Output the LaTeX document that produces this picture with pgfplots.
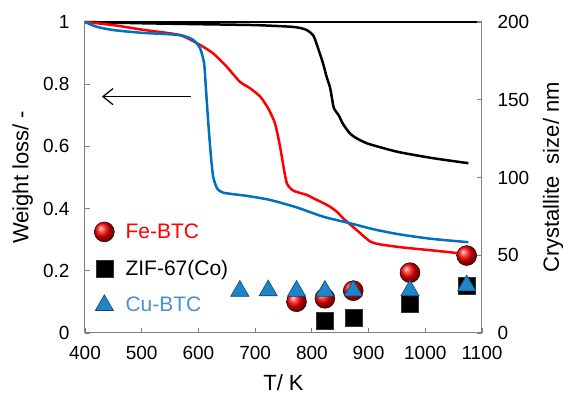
\documentclass[border=0pt]{standalone}
\usepackage{pgfplots}
\pgfplotsset{compat=1.18}
\usepackage{fontspec}
\setmainfont{Liberation Sans}
\usetikzlibrary{arrows.meta}
\definecolor{fered}{RGB}{255,0,0}
\definecolor{cublue}{RGB}{0,112,192}
\definecolor{cutext}{RGB}{74,144,217}
\definecolor{trifill}{RGB}{30,134,200}
\definecolor{tridraw}{RGB}{15,70,110}
\definecolor{framegray}{RGB}{128,128,128}
\begin{document}
\begin{tikzpicture}
\path[use as bounding box] (-85pt,-63pt) rectangle (478pt,333pt);
\begin{axis}[
  at={(0pt,0pt)}, anchor=south west,
  scale only axis, width=397pt, height=311pt,
  xmin=400, xmax=1100, ymin=0, ymax=1,
  axis line style={framegray, line width=1pt},
  tick style={framegray, line width=0.8pt},
  major tick length=5pt, tick align=inside,
  xtick={400,500,...,1100}, ytick={0,0.2,0.4,0.6,0.8,1},
  xtick pos=bottom, ytick pos=left,
  /pgf/number format/assume math mode=true,
  /pgf/number format/1000 sep={},
  yticklabel style={/pgf/number format/fixed, /pgf/number format/precision=1, xshift=-12pt},
  ticklabel style={font=\fontsize{19}{22}\selectfont},
  xticklabel style={yshift=-10pt},
  xlabel={T/ K}, ylabel={Weight loss/ -},
  label style={font=\fontsize{22}{26}\selectfont},
  xlabel style={at={(axis description cs:0.5,-0.161)}, anchor=center},
  ylabel style={at={(axis description cs:-0.157,0.5)}, anchor=center},
  clip=false,
]
\addplot[black, line width=2.2pt, forget plot] coordinates {(400,1.0) (1092,1.0)};
\addplot[black, line width=2.5pt, line join=round, smooth, tension=0.4] coordinates {
(400,1.0) (500,0.996) (600,0.993) (700,0.99) (761,0.985) (779,0.981) (791,0.974) (803,0.955) (814,0.899) (820,0.865) (826,0.824) (832,0.79) (835,0.76) (839,0.722) (847,0.701) (855,0.672) (867,0.642) (879,0.626) (897,0.61) (925,0.595) (955,0.581) (1014,0.562) (1076,0.546)};
\addplot[fered, line width=2.5pt, line join=round, smooth, tension=0.4] coordinates {
(400,1.0) (450,0.99) (502,0.975) (567,0.958) (603,0.926) (626,0.899) (650,0.856) (673,0.808) (691,0.787) (709,0.760) (723,0.722) (735,0.674) (744,0.599) (750,0.535) (756,0.481) (767,0.458) (791,0.444) (803,0.433) (820,0.418) (832,0.406) (844,0.39) (855,0.369) (867,0.35) (879,0.331) (903,0.294) (920,0.285) (960,0.275) (1010,0.266) (1072,0.254)};
\addplot[cublue, line width=2.5pt, line join=round, smooth, tension=0.4] coordinates {
(400,1.0) (420,0.985) (450,0.974) (502,0.965) (567,0.958) (591,0.942) (603,0.915) (610,0.867) (613,0.792) (617,0.685) (621.6,0.578) (626,0.503) (633,0.465) (644,0.451) (685,0.441) (726,0.428) (773,0.404) (820,0.374) (867,0.353) (910,0.333) (955,0.317) (1010,0.303) (1076,0.292)};
\draw[black, line width=1.2pt, -{Straight Barb[length=10pt,width=16pt,line width=1.2pt]}] (axis cs:587,0.76) -- (axis cs:430,0.76);
\end{axis}
\begin{axis}[
  at={(0pt,0pt)}, anchor=south west,
  scale only axis, width=397pt, height=311pt,
  xmin=400, xmax=1100, ymin=0, ymax=200,
  axis x line=none, axis y line*=right,
  axis line style={framegray, line width=1pt},
  tick style={framegray, line width=0.8pt},
  major tick length=5pt, tick align=inside,
  ytick={0,50,100,150,200},
  /pgf/number format/assume math mode=true,
  ticklabel style={font=\fontsize{19}{22}\selectfont},
  yticklabel style={xshift=12pt},
  ylabel={Crystallite\ \ size/ nm},
  label style={font=\fontsize{22}{26}\selectfont},
  ylabel style={at={(axis description cs:1.179,0.5)}, anchor=center, rotate=0},
  legend style={draw=none, fill=none, at={(axis description cs:0.015,0.365)}, anchor=north west,
     font=\fontsize{21}{25}\selectfont, row sep=16pt, column sep=9pt},
  legend cell align=left,
  clip=false,
]
\addplot[only marks, mark=ball, mark size=10pt, mark options={ball color=red}] coordinates {
(773,20.1) (823,22.3) (873,27.2) (973,38.8) (1073,49.8)};
\addlegendentry{\textcolor{fered}{Fe-BTC}}
\addplot[only marks, mark=square*, mark size=8.5pt, mark options={fill=black, draw=black!80}] coordinates {
(823,7.9) (873,9.9) (973,19.1) (1073,30.2)};
\addlegendentry{ZIF-67(Co)}
\addplot[only marks, mark=triangle*, mark size=10.5pt, mark options={fill=trifill, draw=tridraw, line width=0.6pt}] coordinates {
(673,27) (723,27.3) (773,27) (823,27) (873,27.2) (973,27.3) (1073,30.5)};
\addlegendentry{\textcolor{cutext}{Cu-BTC}}
\end{axis}
\end{tikzpicture}
\end{document}
